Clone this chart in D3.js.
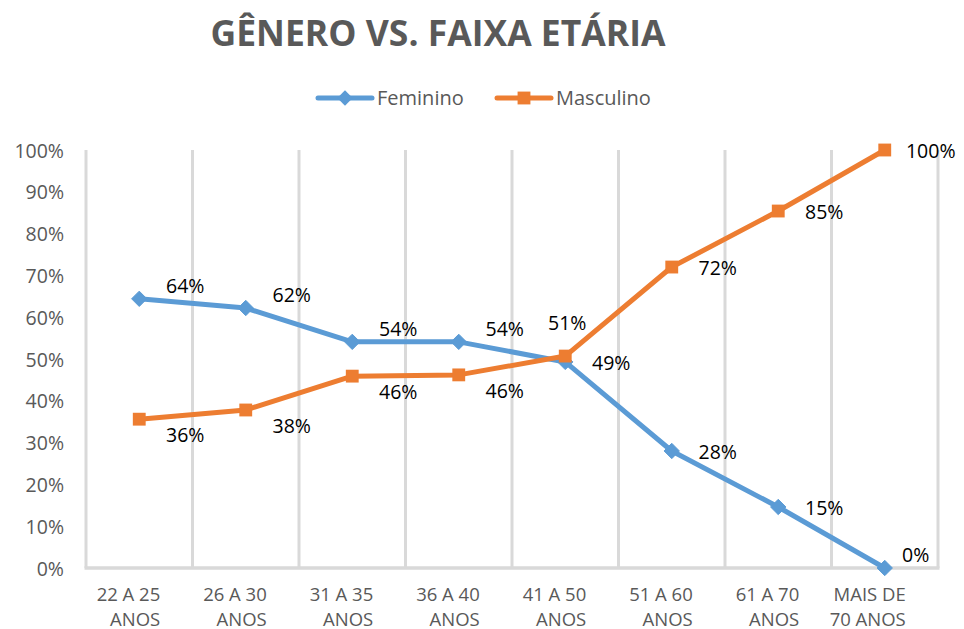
<!DOCTYPE html>
<html><head><meta charset="utf-8">
<script src="https://cdn.jsdelivr.net/npm/d3@7"></script>
<style>body{margin:0;background:#fff;} text{font-family:"Open Sans","Noto Sans",sans-serif;}</style>
</head><body>
<svg id="c" width="964" height="629"></svg>
<script>
const categories = [["22 A 25","ANOS"],["26 A 30","ANOS"],["31 A 35","ANOS"],["36 A 40","ANOS"],["41 A 50","ANOS"],["51 A 60","ANOS"],["61 A 70","ANOS"],["MAIS DE","70 ANOS"]];
const feminino = [0.644, 0.622, 0.541, 0.541, 0.493, 0.28, 0.146, 0.0];
const masculino = [0.356, 0.378, 0.459, 0.462, 0.507, 0.72, 0.854, 1.0];
const yTicks = [0,0.1,0.2,0.3,0.4,0.5,0.6,0.7,0.8,0.9,1.0];
const title = "GÊNERO VS. FAIXA ETÁRIA";
const seriesNames = ["Feminino","Masculino"];
const femLabelPos = ["ur","ur","ur","ur","r","r","r","ur"];
const mascLabelPos = ["dr","dr","dr","dr","u","r","r","r"];

const svg = d3.select("#c");
const pLeft = 86, pRight = 938, pTop = 150, pBottom = 568;
const x = d3.scaleBand().domain(d3.range(categories.length)).range([pLeft, pRight]);
const y = d3.scaleLinear().domain([0,1]).range([pBottom, pTop]);
const grid = "#d9d9d9", txt = "#595959";
const blue = "#5B9BD5", orange = "#ED7D31";

// vertical gridlines
const gl = d3.range(categories.length + 1).map(i => pLeft + i * x.bandwidth());
svg.selectAll("line.g").data(gl).enter().append("line")
  .attr("x1", d => d).attr("x2", d => d).attr("y1", pTop).attr("y2", pBottom)
  .attr("stroke", grid).attr("stroke-width", 3);
svg.append("line").attr("x1", pLeft - 1.5).attr("x2", pRight + 1.5).attr("y1", pBottom).attr("y2", pBottom)
  .attr("stroke", grid).attr("stroke-width", 3.5);

// y axis
const yAxis = d3.axisLeft(y).tickValues(yTicks).tickFormat(d3.format(".0%")).tickSize(0).tickPadding(0);
const ya = svg.append("g").attr("transform", `translate(${pLeft - 22},0)`).call(yAxis);
ya.select(".domain").remove();
ya.selectAll("text").attr("fill", txt).style("font-size", "19.5px").attr("font-family", null).attr("dy", "0.36em");

// x labels
const xAxis = d3.axisBottom(x).tickSize(0).tickFormat(() => "");
const xa = svg.append("g").attr("transform", `translate(0,${pBottom})`).call(xAxis);
xa.select(".domain").remove();
xa.selectAll(".tick").each(function(d){
  const t = d3.select(this).select("text").attr("fill", txt).style("font-size","18.5px").attr("font-family", null)
    .attr("y", 0).attr("dy", null).attr("text-anchor", "end");
  t.append("tspan").attr("x", 21).attr("y", 33).text(categories[d][0]);
  t.append("tspan").attr("x", 21).attr("y", 58).text(categories[d][1]);
});

const cx = i => x(i) + x.bandwidth() / 2;
const line = d3.line().x((d, i) => cx(i)).y(d => y(d));

function drawSeries(vals, color, shape) {
  svg.append("path").datum(vals).attr("d", line).attr("fill", "none")
    .attr("stroke", color).attr("stroke-width", 5).attr("stroke-linejoin", "round");
  const sym = d3.symbol().type(shape === "d" ? d3.symbolDiamond2 : d3.symbolSquare2).size(shape === "d" ? 150 : 210);
  svg.selectAll(null).data(vals).enter().append("path")
    .attr("d", sym).attr("transform", (d, i) => `translate(${cx(i)},${y(d)})`)
    .attr("fill", color).attr("stroke", color).attr("stroke-width", shape === "d" ? 1 : 0);
}
drawSeries(feminino, blue, "d");
drawSeries(masculino, orange, "s");

function drawLabels(vals, pos) {
  svg.selectAll(null).data(vals).enter().append("text")
    .attr("x", (d, i) => cx(i) + (pos[i] === "u" ? 2 : (i === vals.length - 1 && pos[i] === "ur" ? 31 : 46)))
    .attr("y", (d, i) => {
      const p = pos[i];
      const off = p === "ur" ? -13 : p === "dr" ? 16 : p === "u" ? -33 : 1;
      return y(d) + off;
    })
    .attr("dy", "0.36em").attr("text-anchor", "middle")
    .attr("fill", "#000").style("font-size", "19.5px")
    .text(d => d3.format(".0%")(d));
}
drawLabels(feminino, femLabelPos);
drawLabels(masculino, mascLabelPos);

// title
svg.append("text").attr("x", 438).attr("y", 46).attr("text-anchor", "middle")
  .attr("fill", txt).style("font-size", "35.5px").style("font-weight", "bold").text(title);

// legend
const legend = [{name: seriesNames[0], color: blue, shape: "d", x: 318}, {name: seriesNames[1], color: orange, shape: "s", x: 497}];
legend.forEach(l => {
  const g = svg.append("g").attr("transform", `translate(${l.x},98)`);
  g.append("line").attr("x1", 0).attr("x2", 54).attr("stroke", l.color).attr("stroke-width", 5).attr("stroke-linecap","round");
  g.append("path").attr("d", d3.symbol().type(l.shape === "d" ? d3.symbolDiamond2 : d3.symbolSquare2).size(l.shape === "d" ? 150 : 210)())
    .attr("transform", "translate(27,0)").attr("fill", l.color);
  g.append("text").attr("x", 59).attr("dy", "0.36em").attr("fill", txt).style("font-size", "20px").text(l.name);
});
</script>
</body></html>
